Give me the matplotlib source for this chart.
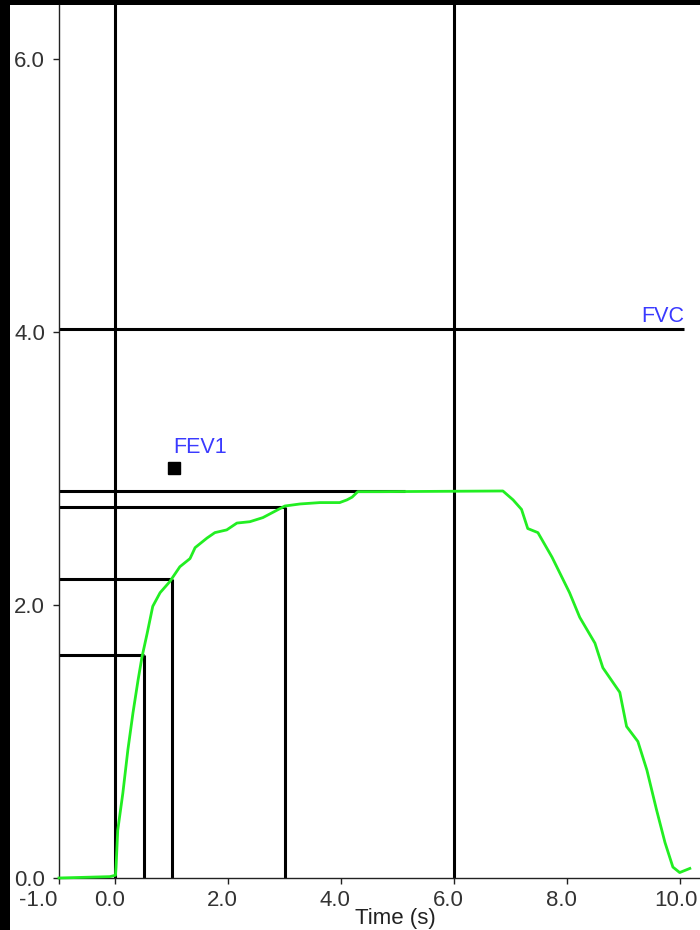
import matplotlib
matplotlib.use("Agg")
import matplotlib.pyplot as plt
from matplotlib.patches import Rectangle
from matplotlib.transforms import ScaledTranslation

# Volume-time spirometry trace (litres vs seconds)
time_s = [-1.0, -0.1, 0.0, 0.01, 0.04, 0.13, 0.22, 0.31, 0.40, 0.47, 0.56, 0.66,
          0.79, 0.96, 1.14, 1.32, 1.41, 1.62, 1.76, 1.97, 2.15, 2.38, 2.61,
          3.0, 3.27, 3.62, 3.97, 4.10, 4.19, 4.29, 4.68, 6.86,
          7.04, 7.19, 7.30, 7.48, 7.73, 8.04, 8.22, 8.49, 8.63, 8.93, 9.05,
          9.25, 9.41, 9.58, 9.73, 9.87, 9.99, 10.17]
volume_l = [0.0, 0.01, 0.02, 0.08, 0.35, 0.62, 0.94, 1.21, 1.45, 1.62, 1.79, 1.99,
            2.09, 2.17, 2.28, 2.34, 2.42, 2.49, 2.53, 2.55, 2.60, 2.61, 2.64,
            2.725, 2.74, 2.75, 2.75, 2.77, 2.79, 2.83, 2.83, 2.835,
            2.77, 2.70, 2.56, 2.53, 2.35, 2.09, 1.91, 1.72, 1.54, 1.36, 1.11,
            1.00, 0.79, 0.50, 0.26, 0.08, 0.04, 0.07]

# Timed volume markers: (time, volume)
fev_times = [0.5, 1.0, 3.0]
fev_volumes = [1.63, 2.19, 2.72]
fvc_measured = 2.835
fvc_measured_end = 5.12
fvc_predicted = 4.02
fvc_predicted_end = 10.07
guide_times = [0.0, 6.0]
fev1_mark = (1.03, 3.0)

x_ticks = [-1.0, 0.0, 2.0, 4.0, 6.0, 8.0, 10.0]
y_ticks = [0.0, 2.0, 4.0, 6.0]
x_label = "Time (s)"

W, H = 700, 930
fig = plt.figure(figsize=(W / 100, H / 100), dpi=100)
fig.patch.set_facecolor("black")
fig.add_artist(Rectangle((10 / W, 0), 1 - 10 / W, 1 - 5 / H,
                         transform=fig.transFigure, facecolor="white",
                         edgecolor="none", zorder=0))

plt.rcParams["font.family"] = ["Liberation Sans", "DejaVu Sans"]

left, right, top, bottom = 59, 700, 5, 878
ax = fig.add_axes([left / W, (H - bottom) / H, (right - left) / W, (bottom - top) / H])
ax.set_facecolor("none")
ax.set_xlim(-1.0, 10.35)
ax.set_ylim(0.0, 6.395)

for s in ("top", "right"):
    ax.spines[s].set_visible(False)
for s in ("left", "bottom"):
    ax.spines[s].set_color("#222222")
    ax.spines[s].set_linewidth(1.0)

ax.set_xticks(x_ticks)
ax.set_xticklabels([f"{v:.1f}" for v in x_ticks])
ax.set_yticks(y_ticks)
ax.set_yticklabels([f"{v:.1f}" for v in y_ticks])
ax.tick_params(axis="both", direction="out", length=4, width=1, color="#222222",
               labelsize=16, labelcolor="#333333")
ax.tick_params(axis="x", pad=4.5)
ax.tick_params(axis="y", pad=6)

# nudge x tick labels slightly left of their ticks
for lab, v in zip(ax.get_xticklabels(), x_ticks):
    dx = -21 if v < 0 else (-4 if v >= 10 else -6)
    lab.set_transform(lab.get_transform() + ScaledTranslation(dx / 100, 0, fig.dpi_scale_trans))

lw = 2.2
xmin = -1.0
# full-height guides
for t in guide_times:
    ax.axvline(t, color="black", lw=lw, zorder=2)
# timed volume guides
for t, v in zip(fev_times, fev_volumes):
    ax.plot([xmin, t], [v, v], color="black", lw=lw, solid_capstyle="butt", zorder=2)
    ax.plot([t, t], [0, v], color="black", lw=lw, solid_capstyle="butt", zorder=2)
ax.plot([xmin, fvc_measured_end], [fvc_measured, fvc_measured], color="black",
        lw=lw, solid_capstyle="butt", zorder=2)
ax.plot([xmin, fvc_predicted_end], [fvc_predicted, fvc_predicted], color="black",
        lw=lw, solid_capstyle="butt", zorder=2)

ax.plot(time_s, volume_l, color="#22ee22", lw=2.0, zorder=3, clip_on=False)

ax.plot([fev1_mark[0]], [fev1_mark[1]], marker="s", color="black", markersize=9,
        zorder=4)
ax.text(fev1_mark[0], 3.11, "FEV1", color="#3a3aff", fontsize=15.5,
        ha="left", va="baseline")
ax.text(fvc_predicted_end, 4.07, "FVC", color="#3a3aff", fontsize=15.5,
        ha="right", va="baseline")

fig.text(395 / W, (H - 918) / H, x_label, ha="center", va="center",
         fontsize=16, color="#222222")

fig.savefig("out.png", dpi=100, facecolor=fig.get_facecolor())
